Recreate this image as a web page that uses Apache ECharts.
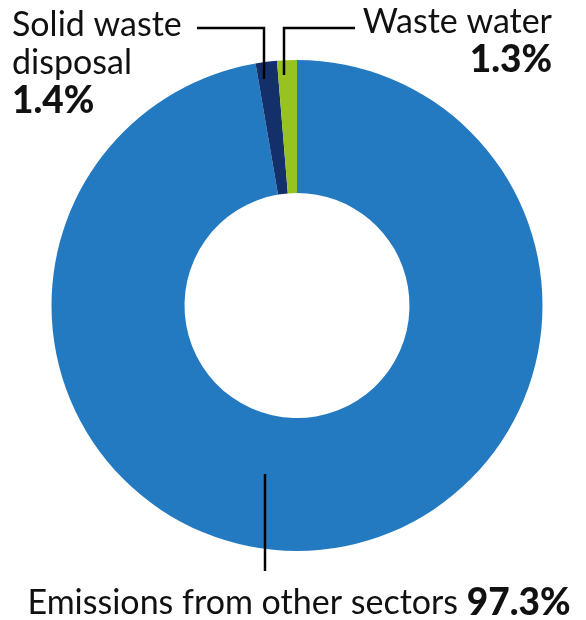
<!DOCTYPE html>
<html>
<head>
<meta charset="utf-8">
<script src="https://cdn.jsdelivr.net/npm/echarts@6/dist/echarts.min.js"></script>
<style>
html,body{margin:0;padding:0;background:#fff;}
#main{width:586px;height:620px;}
</style>
</head>
<body>
<div id="main"></div>
<script>
var categories = ['Emissions from other sectors', 'Solid waste disposal', 'Waste water'];
var labelTexts = ['Emissions from other sectors ', 'Solid waste\ndisposal', 'Waste water'];
var values = [97.3, 1.4, 1.3];
var colors = ['#247AC1', '#14306A', '#97C21F'];

var chart = echarts.init(document.getElementById('main'), null, {renderer: 'canvas'});
var FONT = 'Lato';
var CENTER = [297, 305.5];
var RADIUS = [112.5, 245.5];

var option = {
  animation: false,
  series: [{
    type: 'pie',
    z: 2,
    center: CENTER,
    radius: RADIUS,
    startAngle: 90,
    clockwise: true,
    silent: true,
    label: {show: false},
    labelLine: {show: false},
    itemStyle: {borderWidth: 0},
    data: categories.map(function (c, i) {
      return {name: c, value: values[i], itemStyle: {color: colors[i]}};
    })
  }, {
    type: 'pie',
    z: 5,
    center: CENTER,
    radius: RADIUS,
    startAngle: 90,
    clockwise: true,
    avoidLabelOverlap: false,
    silent: true,
    itemStyle: {color: 'rgba(0,0,0,0)', borderWidth: 0},
    data: categories.map(function (c, i) {
      return {name: c, value: values[i]};
    }),
    label: {
      show: true,
      color: '#111',
      fontFamily: FONT,
      formatter: function (p) {
        var t = labelTexts[p.dataIndex];
        var pct = p.value.toFixed(1) + '%';
        if (p.dataIndex === 0) return '{n|' + t + '}{b|' + pct + '}';
        return t.split('\n').map(function (s) { return '{n|' + s + '}'; }).join('\n') + '\n{b|' + pct + '}';
      },
      rich: {
        n: {fontFamily: FONT, fontSize: 34, color: '#111', lineHeight: 38},
        b: {fontFamily: FONT, fontSize: 37, fontWeight: 900, color: '#111', lineHeight: 38}
      }
    },
    labelLine: {show: true, lineStyle: {color: '#000', width: 2.5}},
    labelLayout: function (p) {
      if (p.dataIndex === 0) {
        return {x: 299, y: 603, align: 'center', verticalAlign: 'middle',
          labelLinePoints: [[265, 474], [265, 571], [265, 571]]};
      }
      if (p.dataIndex === 1) {
        return {x: 12, y: 6, align: 'left', verticalAlign: 'top',
          labelLinePoints: [[197, 28], [264, 28], [264, 79]]};
      }
      return {x: 552, y: 3, align: 'right', verticalAlign: 'top',
        labelLinePoints: [[355, 28], [284, 28], [284, 75]]};
    }
  }]
};
chart.setOption(option);
</script>
</body>
</html>
